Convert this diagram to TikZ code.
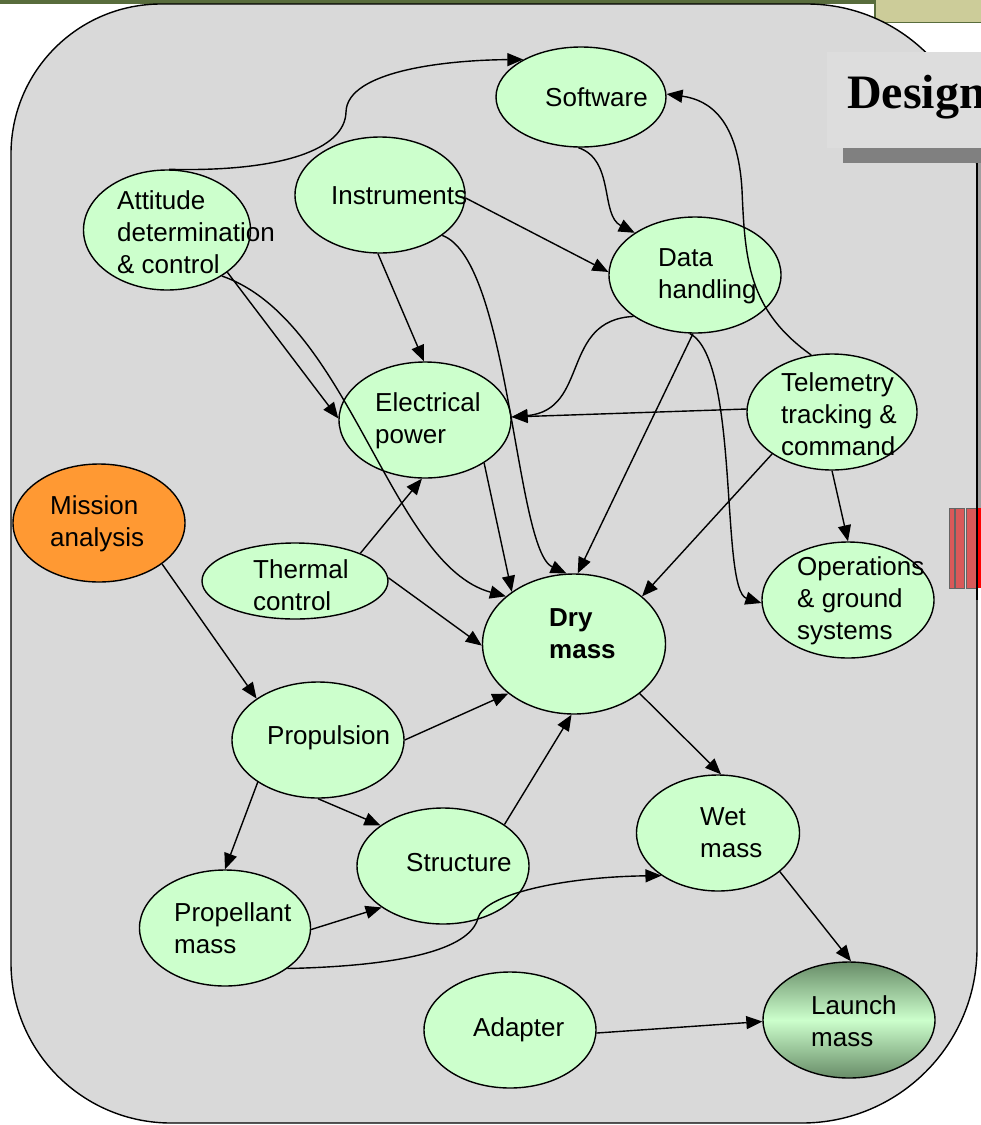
\documentclass[tikz,border=0pt]{standalone}
\usepackage{fontspec}
\setmainfont{Liberation Sans}
\newfontfamily\dsgnfont{Liberation Serif}
\usetikzlibrary{arrows.meta,shapes.geometric}
\definecolor{bggray}{RGB}{217,217,217}
\definecolor{nodegreen}{RGB}{204,255,204}
\definecolor{orangefill}{RGB}{255,153,51}
\definecolor{lmdark}{RGB}{104,140,104}
\definecolor{olivedark}{RGB}{88,108,60}
\definecolor{khaki}{RGB}{204,204,153}
\definecolor{boxgray}{RGB}{221,221,221}
\definecolor{shadowgray}{RGB}{128,128,128}
\definecolor{stripgray}{RGB}{160,160,160}
\definecolor{barred}{RGB}{217,89,89}
\definecolor{barborder}{RGB}{100,100,100}
\begin{document}
\begin{tikzpicture}[x=1pt,y=-1pt,
  ell/.style={ellipse, draw=black, line width=1.4pt, fill=nodegreen, inner sep=0pt},
  lbl/.style={anchor=west, align=left, inner sep=0pt, font=\fontsize{26}{32}\selectfont},
  conn/.style={line width=1.4pt, -{Triangle[length=16pt,width=13pt]}},
  bar/.style={fill=barred, draw=barborder, line width=0.8pt},
]
\useasboundingbox (0,0) rectangle (981,1125);
% frame decorations
\fill[stripgray] (977,163) rectangle (981,508);
\fill[olivedark] (0,0) rectangle (981,3.5);
\filldraw[fill=khaki, draw=olivedark, line width=1.5pt] (875,-2) rectangle (983,22.5);
% background shape
\filldraw[fill=bggray, draw=black, line width=1.4pt]
  (161,4) -- (807,4) arc[start angle=270,end angle=360,radius=170]
  -- (977,948) arc[start angle=0,end angle=90,radius=175]
  -- (171,1123) arc[start angle=90,end angle=180,radius=160]
  -- (11,154) arc[start angle=180,end angle=270,radius=150] -- cycle;
% Design title box
\fill[shadowgray] (843,148) rectangle (983,163);
\fill[boxgray] (827,52) rectangle (983,148);
\node[anchor=base west, inner sep=0pt, font=\dsgnfont\bfseries\fontsize{48}{56}\selectfont] (dsgn) at (847,108) {Design};
% red bars on the right edge
\draw[bar] (949,508) rectangle (954,588);
\draw[bar] (955.5,508) rectangle (964,588);
\draw[bar] (966,508) rectangle (977,588);
\fill[red] (977.7,508) rectangle (983,588);
\draw[black, line width=1.4pt] (977,163) -- (977,600);

% nodes
\node[ell, minimum width=170pt, minimum height=100pt] (sw) at (581,97) {};
\node[ell, minimum width=167pt, minimum height=120pt] (att) at (167,230) {};
\node[ell, minimum width=170pt, minimum height=116pt] (ins) at (380,195) {};
\node[ell, minimum width=172pt, minimum height=116pt] (dh) at (695,275) {};
\node[ell, minimum width=172pt, minimum height=116pt] (ep) at (425,420) {};
\node[ell, minimum width=170pt, minimum height=116pt] (tm) at (832,412) {};
\node[ell, fill=orangefill, minimum width=172pt, minimum height=118pt] (ma) at (99,523) {};
\node[ell, minimum width=186pt, minimum height=76pt] (th) at (295,581) {};
\node[ell, minimum width=183pt, minimum height=140pt] (dm) at (574,644) {};
\node[ell, minimum width=172pt, minimum height=116pt] (op) at (848,600) {};
\node[ell, minimum width=172pt, minimum height=116pt] (pr) at (318,740) {};
\node[ell, minimum width=163pt, minimum height=116pt] (wm) at (718,833) {};
\node[ell, minimum width=172pt, minimum height=116pt] (st) at (443,866) {};
\node[ell, minimum width=171pt, minimum height=116pt] (pm) at (225,928) {};
\node[ell, minimum width=172pt, minimum height=116pt] (ad) at (510,1030) {};
\node[ell, top color=lmdark, bottom color=lmdark, middle color=nodegreen, minimum width=172pt, minimum height=116pt] (lm) at (849,1020) {};

% labels
\node[lbl] (swt) at (545,97) {Software};
\node[lbl] (attt) at (117,232) {Attitude\\determination\\\& control};
\node[lbl] (inst) at (331,196) {Instruments};
\node[lbl] (dht) at (658,276) {Data\\handling};
\node[lbl] (ept) at (375,421) {Electrical\\power};
\node[lbl] (tmt) at (781,414) {Telemetry\\tracking \&\\command};
\node[lbl] (mat) at (50,524) {Mission\\analysis};
\node[lbl] (tht) at (253,585) {Thermal\\control};
\node[lbl, font=\fontsize{26}{32}\selectfont\bfseries] (dmt) at (549,634) {Dry\\mass};
\node[lbl] (opt) at (797,601) {Operations\\\& ground\\systems};
\node[lbl] (prt) at (267,738) {Propulsion};
\node[lbl] (stt) at (406,863) {Structure};
\node[lbl] (wmt) at (700,833) {Wet\\mass};
\node[lbl] (pmt) at (174,928) {Propellant\\mass};
\node[lbl] (adt) at (473,1030) {Adapter};
\node[lbl] (lmt) at (811,1021) {Launch\\mass};

% connectors
\draw[conn] (att.88) .. controls (280,172) and (345,150) .. (346,112)
  .. controls (347,70) and (450,60) .. (sw.147);
\draw[conn] (ins.358) -- (dh.178);
\draw[conn] (ins.268) -- (ep.91);
\draw[conn] (ins.-33) .. controls (510,260) and (515,550) .. (dm.96);
\draw[conn] (att.-35) -- (ep.179);
\draw[conn] (att.-40) .. controls (350,320) and (390,565) .. (dm.145);
\draw[conn] (th.23) -- (ep.267);
\draw[conn] (th.2) -- (dm.181);
\draw[conn] (ep.-36) -- (dm.140);
\draw[conn] (dh.214) .. controls (560,320) and (590,410) .. (ep.2);
\draw[conn] (tm.178) -- (ep.2);
\draw[conn] (tm.110) .. controls (748,310) and (745,260) .. (742,190)
  .. controls (738,120) and (710,100) .. (sw.2);
\draw[conn] (sw.267) .. controls (615,160) and (600,215) .. (dh.145);
\draw[conn] (dh.268) -- (dm.87);
\draw[conn] (dh.265) .. controls (740,360) and (720,590) .. (op.182);
\draw[conn] (tm.270) -- (op.90);
\draw[conn] (tm.215) -- (dm.35);
\draw[conn] (ma.-33) -- (pr.146);
\draw[conn] (pr.0) -- (dm.217);
\draw[conn] (pr.215) -- (pm.90);
\draw[conn] (pr.270) -- (st.147);
\draw[conn] (pm.-1) -- (st.214);
\draw[conn] (pm.-33) .. controls (400,966) and (470,950) .. (478,918)
  .. controls (484,895) and (560,877) .. (wm.217);
\draw[conn] (st.34) -- (dm.268);
\draw[conn] (dm.-37) -- (wm.87);
\draw[conn] (wm.-32) -- (lm.88);
\draw[conn] (ad.-2) -- (lm.181);
\end{tikzpicture}
\end{document}
